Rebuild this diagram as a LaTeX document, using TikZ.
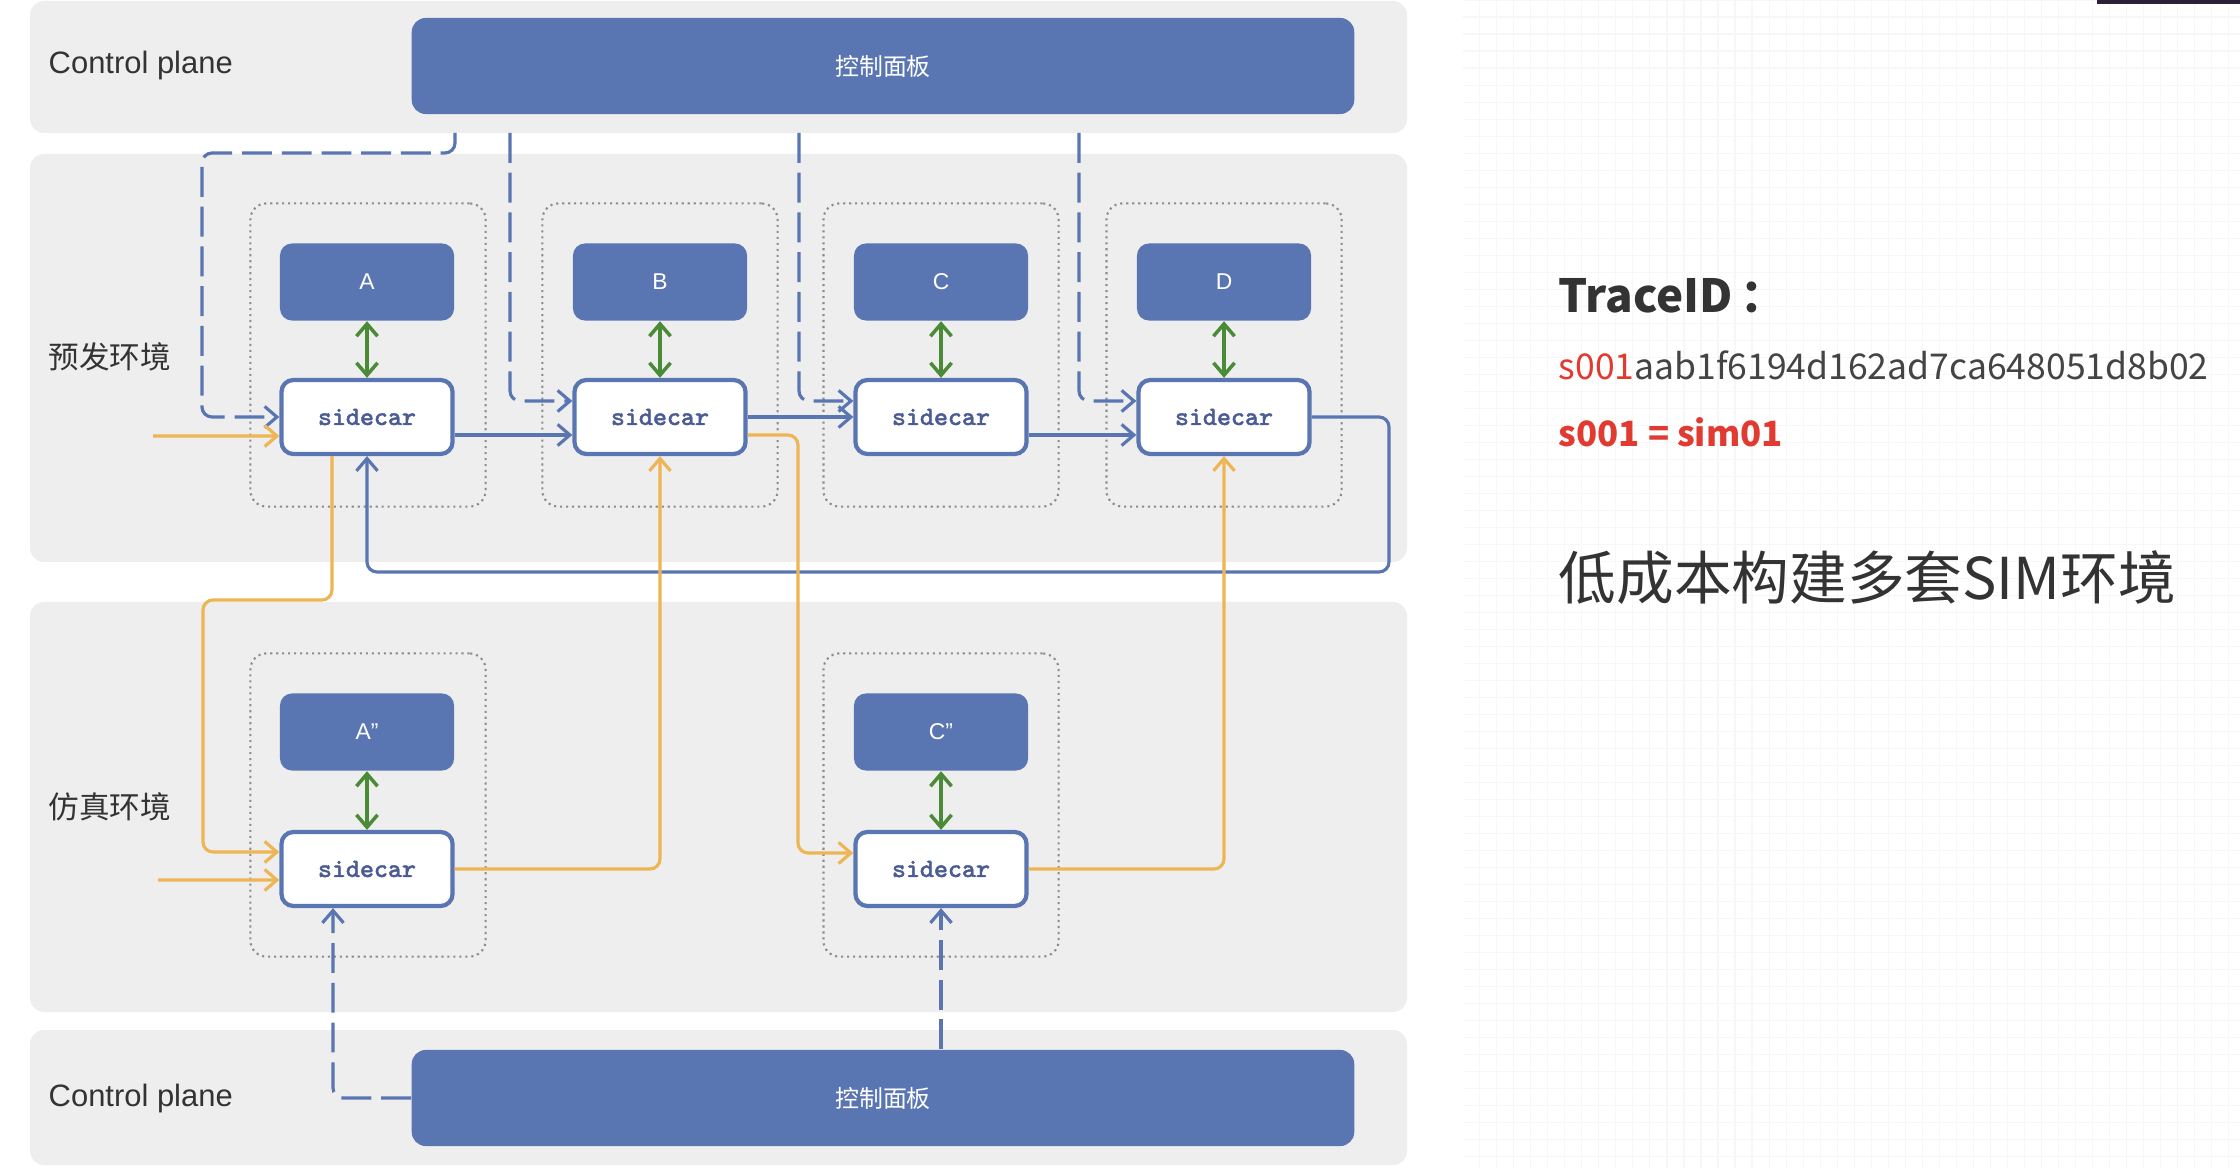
\documentclass[tikz,border=0pt]{standalone}
\usepackage{fontspec}
\setmainfont{Liberation Sans}
\newfontfamily\cjk{Noto Sans CJK SC}
\newfontfamily\sidefont[FakeBold=1.8]{Latin Modern Mono}
\usetikzlibrary{arrows.meta}
\definecolor{bandgray}{HTML}{EEEEEE}
\definecolor{svcblue}{HTML}{5A76B2}
\definecolor{sidetext}{HTML}{4A5C93}
\definecolor{flowyellow}{HTML}{EEB554}
\definecolor{linkgreen}{HTML}{4B8A36}
\definecolor{txtgray}{HTML}{333333}
\definecolor{hashgray}{HTML}{444444}
\definecolor{idred}{HTML}{E03A31}
\definecolor{gridgray}{HTML}{F7F7F7}
\definecolor{darkbar}{HTML}{2B2035}

\begin{document}
\begin{tikzpicture}[x=0.01cm,y=-0.01cm,
    band/.style={fill=bandgray,rounded corners=0.14cm},
    pod/.style={draw=gray!90,line width=0.6pt,dash pattern=on 0.6pt off 1.1pt,rounded corners=0.16cm,minimum width=2.35cm,minimum height=3.03cm},
    svc/.style={fill=svcblue,rounded corners=0.12cm,minimum width=1.74cm,minimum height=0.77cm,text=white,font=\fontsize{6.5}{7}\selectfont},
    sidecar/.style={draw=svcblue,fill=white,line width=1.2pt,rounded corners=0.12cm,minimum width=1.71cm,minimum height=0.74cm,text=sidetext,font=\sidefont\fontsize{7.5}{8}\selectfont},
    ctrl/.style={fill=svcblue,rounded corners=0.14cm,minimum width=9.42cm,minimum height=0.96cm,text=white,font=\cjk\fontsize{6.8}{8}\selectfont},
    lbl/.style={anchor=west,inner sep=0pt,text=txtgray},
    blueflow/.style={draw=svcblue,line width=0.9pt,-{Straight Barb[length=3.5pt,width=6pt]}},
    ctrlflow/.style={blueflow,dash pattern=on 8.5pt off 2.8pt,rounded corners=0.1cm},
    simflow/.style={draw=flowyellow,line width=0.9pt,rounded corners=0.1cm,-{Straight Barb[length=3.5pt,width=6pt]}},
    sync/.style={draw=linkgreen,line width=1pt,{Straight Barb[length=3.5pt,width=6pt]}-{Straight Barb[length=3.5pt,width=6pt]}}]
    \useasboundingbox (0,0) rectangle (2240,1168);
    \fill[white] (0,0) rectangle (2240,1168);
    \draw[gridgray,line width=0.3pt,step=0.17cm] (1463,0) grid (2240,1168);
    \fill[darkbar] (2097,0) rectangle (2240,4);

    \fill[band] (30,1) rectangle (1407,133);
    \fill[band] (30,154) rectangle (1407,562);
    \fill[band] (30,602) rectangle (1407,1012);
    \fill[band] (30,1030) rectangle (1407,1165);

    \node[lbl,font=\fontsize{8.8}{10}\selectfont](cptoplbl) at (48,66) {Control plane};
    \node[lbl,font=\cjk\fontsize{8.7}{10}\selectfont](prelbl) at (48,357) {预发环境};
    \node[lbl,font=\cjk\fontsize{8.7}{10}\selectfont](simlbl) at (48,807) {仿真环境};
    \node[lbl,font=\fontsize{8.8}{10}\selectfont](cpbotlbl) at (48,1098) {Control plane};

    \node[ctrl](ctrltop) at (883,66) {控制面板};
    \node[ctrl](ctrlbot) at (883,1098) {控制面板};

    \begin{scope}
    \node[pod](poda) at (368,355) {};
    \node[pod](podb) at (660,355) {};
    \node[pod](podc) at (941,355) {};
    \node[pod](podd) at (1224,355) {};

    \node[svc](appa) at (367,282) {A};
    \node[svc](appb) at (660,282) {B};
    \node[svc](appc) at (941,282) {C};
    \node[svc](appd) at (1224,282) {D};

    \node[sidecar](sida) at (367,417) {sidecar};
    \node[sidecar](sidb) at (660,417) {sidecar};
    \node[sidecar](sidc) at (941,417) {sidecar};
    \node[sidecar](sidd) at (1224,417) {sidecar};
    \end{scope}

    \begin{scope}
    \node[pod](poda2) at (368,805) {};
    \node[pod](podc2) at (941,805) {};

    \node[svc](appa2) at (367,732) {A"};
    \node[svc](appc2) at (941,732) {C"};

    \node[sidecar](sida2) at (367,869) {sidecar};
    \node[sidecar](sidc2) at (941,869) {sidecar};
    \end{scope}

    \coordinate (cpa) at (455,133);
    \coordinate (cpb) at (510,133);
    \coordinate (cpc) at (799,133);
    \coordinate (cpd) at (1079,133);
    \coordinate (bendtop) at (202,153);
    \coordinate (loopturn) at (1389,572);
    \coordinate (inpre) at (153,436);
    \coordinate (insim) at (158,880);
    \coordinate (bendsim) at (203,600);
    \coordinate (bendc) at (798,853);

    \draw[sync] (appa.south) -- (sida.north);
    \draw[sync] (appb.south) -- (sidb.north);
    \draw[sync] (appc.south) -- (sidc.north);
    \draw[sync] (appd.south) -- (sidd.north);
    \draw[sync] (appa2.south) -- (sida2.north);
    \draw[sync] (appc2.south) -- (sidc2.north);

    \draw[ctrlflow] (cpa) |- (bendtop) |- (sida.west);
    \draw[ctrlflow] (cpb) |- ([yshift=0.16cm]sidb.west);
    \draw[ctrlflow] (cpc) |- ([yshift=0.16cm]sidc.west);
    \draw[ctrlflow] (cpd) |- ([yshift=0.16cm]sidd.west);
    \draw[ctrlflow] (ctrlbot.west) -| ([xshift=-0.34cm]sida2.south);
    \draw[ctrlflow] (ctrlbot.north -| sidc2.south) -- (sidc2.south);

    \draw[blueflow] ([yshift=-0.18cm]sida.east) -- ([yshift=-0.18cm]sidb.west);
    \draw[blueflow] (sidb.east) -- (sidc.west);
    \draw[blueflow] ([yshift=-0.18cm]sidc.east) -- ([yshift=-0.18cm]sidd.west);
    \draw[blueflow,rounded corners=0.1cm] (sidd.east) -| (loopturn) -| (sida.south);

    \draw[simflow] (inpre) -- ([yshift=-0.19cm]sida.west);
    \draw[simflow] ([xshift=-0.35cm]sida.south) |- (bendsim) |- ([yshift=0.17cm]sida2.west);
    \draw[simflow] (insim) -- ([yshift=-0.11cm]sida2.west);
    \draw[simflow] (sida2.east) -| (sidb.south);
    \draw[simflow] ([yshift=-0.18cm]sidb.east) -| (bendc) -- ([yshift=0.16cm]sidc2.west);
    \draw[simflow] (sidc2.east) -| (sidd.south);

    \node[anchor=base west,inner sep=0pt,text=txtgray,font=\cjk\bfseries\fontsize{13}{15}\selectfont](traceid) at (1558,313) {TraceID\,：};
    \node[anchor=base west,inner sep=0pt,text=hashgray,font=\cjk\fontsize{10.1}{12}\selectfont](hash) at (1558,380) {\textcolor{idred}{s001}aab1f6194d162ad7ca648051d8b02};
    \node[anchor=base west,inner sep=0pt,text=idred,font=\cjk\bfseries\fontsize{9.9}{12}\selectfont](simid) at (1558,447) {s001 = sim01};
    \node[anchor=base west,inner sep=0pt,text=txtgray,font=\cjk\fontsize{16.4}{19}\selectfont](slogan) at (1558,600) {低成本构建多套SIM环境};
\end{tikzpicture}
\end{document}
